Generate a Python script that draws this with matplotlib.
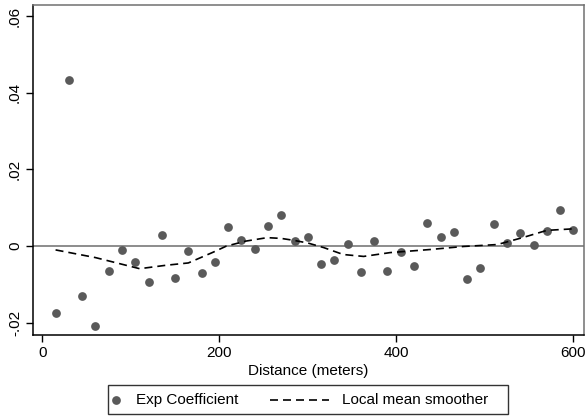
"""Exp coefficient by distance with a local mean smoother."""

import matplotlib

matplotlib.use("Agg")
import matplotlib.pyplot as plt
from matplotlib.lines import Line2D
from matplotlib.patches import Rectangle

# Data
distance = [15, 30, 45, 60, 75, 90, 105, 120, 135, 150, 165, 180, 195, 210,
            225, 240, 255, 270, 285, 300, 315, 330, 345, 360, 375, 390, 405,
            420, 435, 450, 465, 480, 495, 510, 525, 540, 555, 570, 585, 600]
coef = [-0.0174, 0.0433, -0.0131, -0.0208, -0.0065, -0.0009, -0.0042,
        -0.0095, 0.0030, -0.0083, -0.0014, -0.0070, -0.0042, 0.0051,
        0.0016, -0.0007, 0.0053, 0.0081, 0.0013, 0.0023, -0.0048, -0.0037,
        0.0006, -0.0067, 0.0012, -0.0064, -0.0016, -0.0053, 0.0061, 0.0023,
        0.0037, -0.0086, -0.0057, 0.0058, 0.0009, 0.0033, 0.0004, 0.0040,
        0.0095, 0.0043]

smooth_x = [15, 60, 110, 140, 165, 193, 208, 230, 254, 270, 284, 300, 318,
            340, 363, 393, 438, 476, 514, 530, 544, 570, 600]
smooth_y = [-0.0010, -0.0030, -0.0059, -0.0050, -0.0044, -0.0016, 0.0000,
            0.0013, 0.0022, 0.0020, 0.0015, 0.0008, -0.0004, -0.0022,
            -0.0027, -0.0017, -0.0009, -0.0001, 0.0004, 0.0014, 0.0023,
            0.0041, 0.0045]

x_ticks = [0, 200, 400, 600]
y_ticks = [-0.02, 0, 0.02, 0.04, 0.06]
y_tick_labels = ["-.02", "0", ".02", ".04", ".06"]
legend_labels = ["Exp Coefficient", "Local mean smoother"]

DOT = "#5a5a5a"
DASHES = (4.8, 3.0)
W, H = 586, 418


def fx(px):
    return px / W


def fy(py):
    return 1 - py / H


plt.rcParams["font.family"] = ["Liberation Sans", "DejaVu Sans"]

fig = plt.figure(figsize=(5.86, 4.18), dpi=100)
ax = fig.add_axes([fx(33), fy(335), fx(584) - fx(33), fy(5) - fy(335)])

ax.axhline(0, color="#6e6e6e", linewidth=1.1, zorder=1)
ax.plot(distance, coef, "o", color=DOT, markersize=6.3,
        markeredgewidth=0, zorder=3)
ax.plot(smooth_x, smooth_y, color="black", linewidth=1.2,
        dashes=DASHES, zorder=4)

ax.set_xlim(-10.5, 612)
ax.set_ylim(-0.0232, 0.0629)
ax.set_xticks(x_ticks)
ax.set_yticks(y_ticks)
ax.set_yticklabels(y_tick_labels, rotation=90, va="center")
ax.tick_params(direction="out", length=5, width=1, labelsize=11, pad=3)
ax.set_xlabel("Distance (meters)", fontsize=11, labelpad=3)

for side in ("left", "bottom"):
    ax.spines[side].set_color("black")
    ax.spines[side].set_linewidth(1.1)
for side in ("top", "right"):
    ax.spines[side].set_color("#707070")
    ax.spines[side].set_linewidth(1.1)

# Legend box below the plot, drawn by hand to match the spacing
ly = fy(400)
fig.add_artist(Rectangle((fx(108), fy(414)), fx(508) - fx(108),
                         fy(385) - fy(414), transform=fig.transFigure,
                         fill=False, edgecolor="#333333", linewidth=1.0))
fig.add_artist(Line2D([fx(116)], [ly], marker="o", linestyle="none",
                      color=DOT, markersize=6.3, markeredgewidth=0,
                      transform=fig.transFigure))
fig.text(fx(136), ly, legend_labels[0], fontsize=11, ha="left", va="center")
fig.add_artist(Line2D([fx(270), fx(329)], [ly, ly], color="black",
                      linewidth=1.2, dashes=DASHES,
                      transform=fig.transFigure))
fig.text(fx(342), ly, legend_labels[1], fontsize=11, ha="left", va="center")

fig.savefig("out.png", dpi=100)
